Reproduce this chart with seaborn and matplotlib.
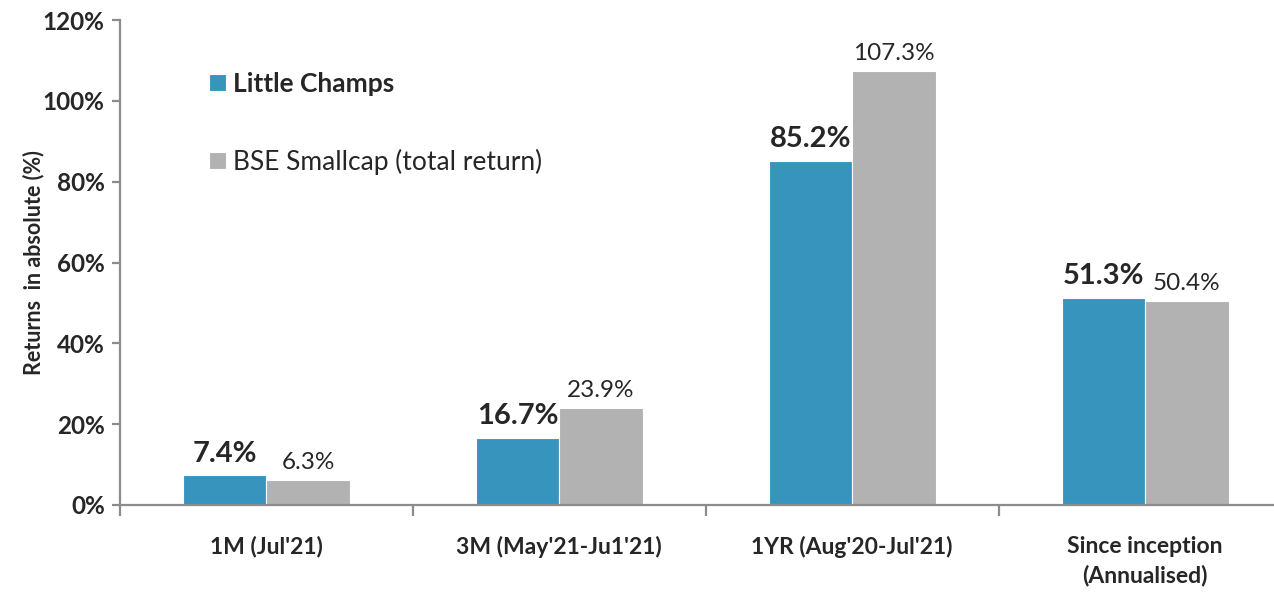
import pandas as pd
import numpy as np
import matplotlib.pyplot as plt
import seaborn as sns
from matplotlib.ticker import FixedLocator, PercentFormatter

categories = ["1M (Jul'21)", "3M (May'21-Ju1'21)", "1YR (Aug'20-Jul'21)", "Since inception\n(Annualised)"]
series_names = ["Little Champs", "BSE Smallcap (total return)"]
little_champs = [7.4, 16.7, 85.2, 51.3]
bse_smallcap = [6.3, 23.9, 107.3, 50.4]
y_ticks = [0, 20, 40, 60, 80, 100, 120]

colors = {"Little Champs": "#3795BD", "BSE Smallcap (total return)": "#B2B2B2"}
axis_grey = "#8C8C8C"

df = pd.DataFrame({
    "period": categories * 2,
    "series": [series_names[0]] * 4 + [series_names[1]] * 4,
    "value": little_champs + bse_smallcap,
})

sns.set_style("white")
plt.rcParams['font.family'] = ['Lato', 'DejaVu Sans']

fig = plt.figure(figsize=(12.74, 5.92), dpi=100)
ax = fig.add_axes([0.0942, 0.147, 0.9058, 0.819])

sns.barplot(data=df, x="period", y="value", hue="series", order=categories,
            hue_order=series_names, palette=colors, width=0.57, saturation=1,
            edgecolor="white", linewidth=0.8, ax=ax)

ax.set_ylim(0, 120)
ax.set_xlim(-0.5, 3.44)
ax.yaxis.set_major_locator(FixedLocator(y_ticks))
ax.yaxis.set_major_formatter(PercentFormatter(decimals=0))

for s in ["top", "right"]:
    ax.spines[s].set_visible(False)
for s in ["left", "bottom"]:
    ax.spines[s].set_color(axis_grey)
    ax.spines[s].set_linewidth(1.6)

ax.tick_params(axis="y", which="major", direction="out", length=6, width=1.6,
               color=axis_grey, left=True, labelsize=17.5, pad=5)
ax.tick_params(axis="x", which="major", length=0, labelsize=16.5, pad=22)
ax.xaxis.set_minor_locator(FixedLocator([-0.5, 0.5, 1.5, 2.5]))
ax.tick_params(axis="x", which="minor", direction="out", length=8, width=1.6,
               color=axis_grey, bottom=True)
for lbl in ax.get_yticklabels():
    lbl.set_fontweight("bold")
for lbl in ax.get_xticklabels():
    lbl.set_fontweight("bold")
    lbl.set_linespacing(1.45)

ax.set_xlabel("")
ax.set_ylabel("Returns  in absolute (%)", fontsize=15.5, fontweight="bold", labelpad=-1)

# value labels
for container, bold in zip(ax.containers, [True, False]):
    for bar, v in zip(container, container.datavalues):
        ax.annotate(f"{v:.1f}%", (bar.get_x() + bar.get_width() / 2, bar.get_height()),
                    xytext=(0, 6 if bold else 5), textcoords="offset points",
                    ha="center", va="bottom",
                    fontsize=21 if bold else 17.5,
                    fontweight="bold" if bold else "normal")

leg = ax.legend(loc="upper left", bbox_to_anchor=(0.068, 0.915), frameon=False,
                fontsize=19, labelspacing=2.0, handlelength=0.65, handleheight=0.65,
                handletextpad=0.25, borderaxespad=0)
leg.get_texts()[0].set_fontweight("bold")

plt.savefig("out.png", dpi=100)
